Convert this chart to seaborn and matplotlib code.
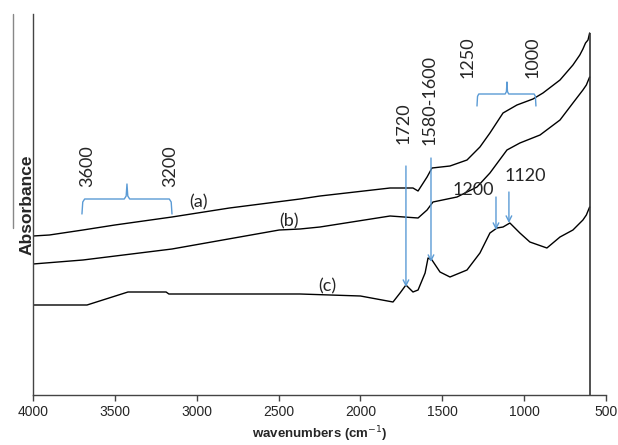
import matplotlib
matplotlib.use("Agg")
import matplotlib.pyplot as plt
import pandas as pd
import seaborn as sns
from matplotlib.lines import Line2D

# FTIR spectra (absorbance in arbitrary units, curves offset vertically)
wn_a = [4000, 3900, 3695, 3500, 3151, 2800, 2369, 2247, 1819, 1720, 1679, 1648,
        1593, 1563, 1453, 1349, 1270, 1209, 1129, 1044, 946, 885, 781, 702,
        660, 641, 625, 610, 600]
abs_a = [1.59, 1.60, 1.65, 1.70, 1.78, 1.87, 1.96, 1.99, 2.07, 2.07, 2.07, 2.04,
         2.18, 2.27, 2.29, 2.35, 2.48, 2.62, 2.82, 2.90, 2.96, 3.02, 3.15, 3.30,
         3.40, 3.46, 3.52, 3.55, 3.62]

wn_b = [4000, 3695, 3151, 2496, 2369, 2247, 1819, 1648, 1593, 1557, 1410, 1288,
        1209, 1105, 1026, 903, 781, 702, 641, 620, 600]
abs_b = [1.31, 1.35, 1.46, 1.65, 1.66, 1.68, 1.79, 1.77, 1.85, 1.93, 1.98, 2.08,
         2.22, 2.45, 2.52, 2.60, 2.75, 2.92, 3.05, 3.10, 3.18]

wn_c = [4000, 3700, 3670, 3420, 3187, 3170, 3050, 2369, 2000, 1801, 1758, 1722,
        1679, 1648, 1605, 1587, 1563, 1514, 1453, 1349, 1270, 1209, 1166, 1129,
        1087, 1026, 965, 861, 781, 702, 641, 620, 600]
abs_c = [0.90, 0.90, 0.90, 1.03, 1.03, 1.01, 1.01, 1.01, 0.99, 0.93, 1.02, 1.10,
         1.03, 1.05, 1.22, 1.37, 1.35, 1.23, 1.18, 1.25, 1.42, 1.62, 1.67, 1.68,
         1.72, 1.62, 1.53, 1.47, 1.58, 1.65, 1.75, 1.80, 1.88]

curve_names = ["(a)", "(b)", "(c)"]
curve_label_pos = [(2992, 1.93), (2436, 1.74), (2204, 1.09)]

# band annotations
rot_labels = ["3600", "3200", "1250", "1000", "1720", "1580-1600"]
rot_label_pos = [(3670, 2.29), (3163, 2.29), (1343, 3.38), (946, 3.38),
                 (1734, 2.72), (1575, 2.95)]
flat_labels = ["1200", "1120"]
flat_label_pos = [(1313, 2.05), (995, 2.19)]
arrows = [(1722, 2.29, 1.08), (1569, 2.37, 1.33), (1172, 1.98, 1.65), (1093, 2.03, 1.72)]
braces = [(3701, 3151, 3426, 1.96, 0.15), (1288, 928, 1105, 3.01, 0.12)]

blue = "#5b9bd5"

frames = []
for name, w, a in zip(curve_names, [wn_a, wn_b, wn_c], [abs_a, abs_b, abs_c]):
    frames.append(pd.DataFrame({"wavenumber": w, "absorbance": a, "sample": name}))
df = pd.concat(frames, ignore_index=True)

sns.set_style("white")
plt.rcParams["font.family"] = ["Liberation Sans", "DejaVu Sans"]

fig = plt.figure(figsize=(6.18, 4.45), dpi=100)
ax = fig.add_axes([33 / 618, 1 - 395 / 445, (606 - 33) / 618, (395 - 14) / 445])

sns.lineplot(data=df, x="wavenumber", y="absorbance", units="sample",
             estimator=None, sort=False, color="black", lw=1.0, ax=ax, legend=False)

ax.set_xlim(4000, 500)
ax.set_ylim(0, 3.81)
ax.set_xticks([4000, 3500, 3000, 2500, 2000, 1500, 1000, 500])
ax.set_yticks([])
ax.tick_params(axis="x", direction="out", length=4, width=1, color="#444444",
               labelsize=10, pad=3, bottom=True)
for s in ["top", "right"]:
    ax.spines[s].set_visible(False)
for s in ["left", "bottom"]:
    ax.spines[s].set_color("#444444")
    ax.spines[s].set_linewidth(1.0)

# vertical edge at the end of the scan
ax.vlines(wn_a[-1], 0, abs_a[-1], color="#333333", lw=1.2)

ax.set_xlabel("wavenumbers (cm$^{-1}$)", fontsize=9.5, fontweight="bold", labelpad=4)
ax.set_ylabel("Absorbance", fontsize=12.5, fontweight="bold")
ax.yaxis.label.set_va("center")
ax.yaxis.set_label_coords(-0.011, 0.5)

afont = ["Lato", "DejaVu Sans"]
for name, (x, y) in zip(curve_names, curve_label_pos):
    ax.text(x, y, name, ha="center", va="center", fontsize=13, family=afont)
for t, (x, y) in zip(rot_labels, rot_label_pos):
    ax.text(x, y, t, ha="center", va="center", rotation=90, fontsize=13, family=afont)
for t, (x, y) in zip(flat_labels, flat_label_pos):
    ax.text(x, y, t, ha="center", va="center", fontsize=13, family=afont)

for x, y0, y1 in arrows:
    ax.annotate("", xy=(x, y1), xytext=(x, y0),
                arrowprops=dict(arrowstyle="->", color=blue, lw=1.0,
                                shrinkA=0, shrinkB=0, mutation_scale=10))

for x0, x1, xm, y, h in braces:
    r = (x0 - x1) * 0.03
    xs = [x0, x0 - r * 0.3, x0 - r, xm + r, xm + r * 0.3, xm, xm - r * 0.3, xm - r,
          x1 + r, x1 + r * 0.3, x1]
    ys = [y - h, y - h * 0.2, y, y, y + h * 0.2, y + h, y + h * 0.2, y, y,
          y - h * 0.2, y - h]
    ax.plot(xs, ys, color=blue, lw=1.0)

# grey margin line from the original scan
fig.add_artist(Line2D([12.5 / 618, 12.5 / 618], [1 - 14 / 445, 1 - 228 / 445],
                      color="#888888", lw=1.0))

fig.savefig("out.png", dpi=100)
